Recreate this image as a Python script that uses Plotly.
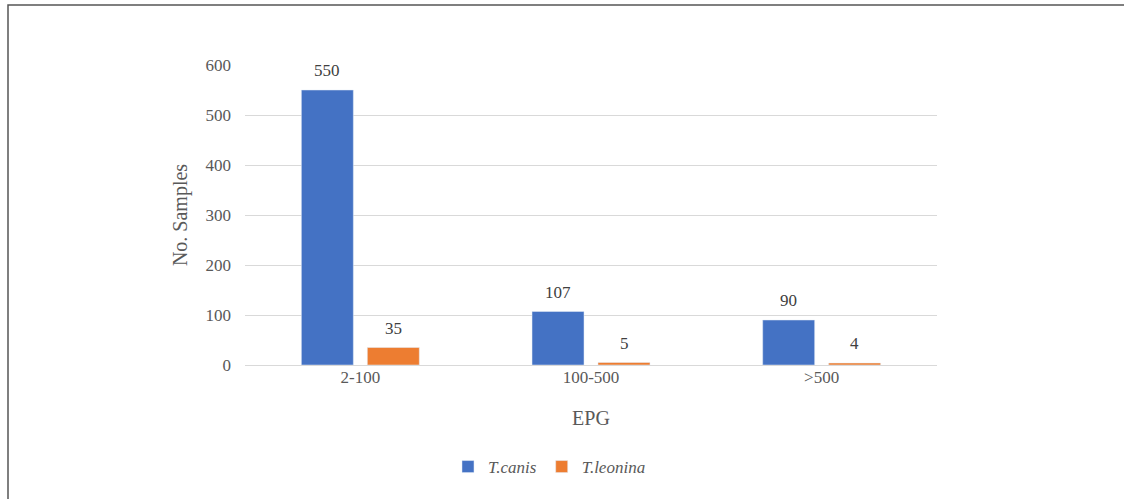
import plotly.graph_objects as go

categories = ["2-100", "100-500", ">500"]
t_canis = [550, 107, 90]
t_leonina = [35, 5, 4]
y_ticks = [0, 100, 200, 300, 400, 500, 600]

W, H = 1124, 499
L, R, T, B = 245, 187, 65, 134
pw, ph = W - L - R, H - T - B

font = "Liberation Serif, Times New Roman, serif"
gray = "#595959"

fig = go.Figure()
fig.add_trace(go.Bar(x=categories, y=t_canis, name="<i>T.canis</i>",
                     marker_color="#4472C4"))
fig.add_trace(go.Bar(x=categories, y=t_leonina, name="<i>T.leonina</i>",
                     marker_color="#ED7D31"))

annotations = []
for vals, dx in ((t_canis, -33), (t_leonina, 33)):
    for c, v in zip(categories, vals):
        annotations.append(dict(x=c, y=v, xref="x", yref="y", text=str(v), showarrow=False,
                                xshift=dx, yshift=8, yanchor="bottom",
                                font=dict(size=17, color="#404040", family=font)))

def px_to_paper_x(px):
    return (px - L) / pw

def px_to_paper_y(py):
    return (H - B - py) / ph

fig.update_layout(
    width=W, height=H,
    margin=dict(l=L, r=R, t=T, b=B),
    plot_bgcolor="white", paper_bgcolor="white",
    barmode="group", bargap=0.428, bargroupgap=0.212,
    font=dict(family=font, color=gray, size=17),
    showlegend=True,
    annotations=annotations,
    legend=dict(orientation="h", x=0.44, xanchor="center", y=px_to_paper_y(467), yanchor="middle",
                font=dict(size=17, color=gray, family=font), itemwidth=30, traceorder="normal"),
    xaxis=dict(showgrid=False, showline=False, ticks="",
               tickfont=dict(size=17, color=gray, family=font),
               title=dict(text="EPG", font=dict(size=20, color=gray, family=font), standoff=24)),
    yaxis=dict(range=[0, 600], tickvals=y_ticks, showgrid=True, gridcolor="#D9D9D9", gridwidth=1,
               zeroline=True, zerolinecolor="#D9D9D9", zerolinewidth=1, showline=False,
               tickfont=dict(size=17, color=gray, family=font), ticklabelstandoff=13,
               title=dict(text="No. Samples", font=dict(size=20, color=gray, family=font), standoff=12)),
    shapes=[dict(type="rect", xref="paper", yref="paper",
                 x0=px_to_paper_x(8), x1=px_to_paper_x(1140),
                 y0=px_to_paper_y(520), y1=px_to_paper_y(5),
                 line=dict(color="#555555", width=1.5), layer="below")],
)

fig.write_html("out.html")
